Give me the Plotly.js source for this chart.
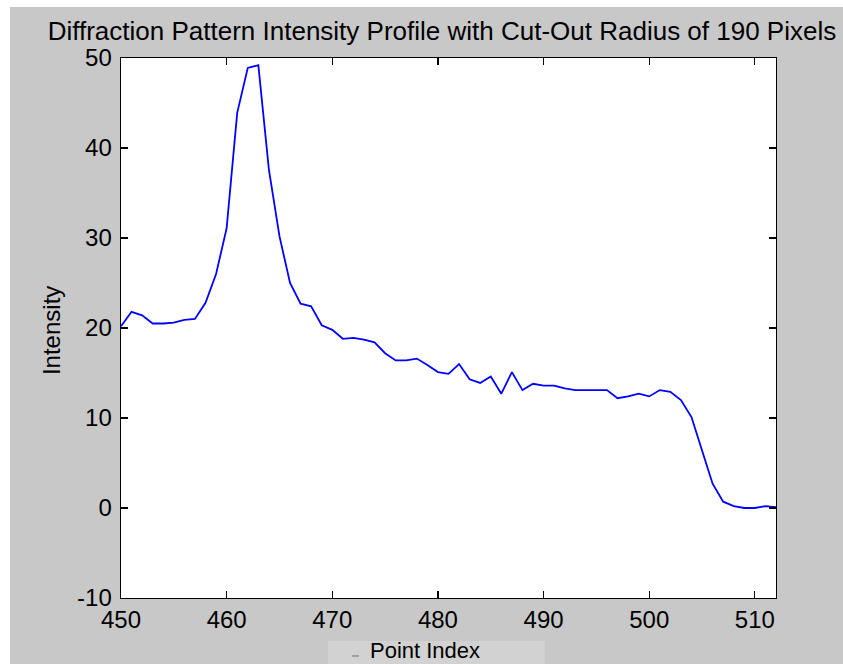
<!DOCTYPE html>
<html>
<head>
<meta charset="utf-8">
<script src="https://cdn.plot.ly/plotly-3.0.1.min.js"></script>
<style>
  html, body { margin: 0; padding: 0; background: #ffffff; width: 843px; height: 664px; overflow: hidden; }
  #chart { position: absolute; left: 10px; top: 7px; width: 833px; height: 657px; }
</style>
</head>
<body>
<div id="chart"></div>
<script>
// Point indices 450..512
const pointIndex = [450,451,452,453,454,455,456,457,458,459,460,461,462,463,464,465,466,467,468,469,470,
  471,472,473,474,475,476,477,478,479,480,481,482,483,484,485,486,487,488,489,490,
  491,492,493,494,495,496,497,498,499,500,501,502,503,504,505,506,507,508,509,510,511,512];
const intensity = [20.2,21.8,21.4,20.5,20.5,20.6,20.9,21.0,22.8,26.0,31.1,43.9,48.9,49.2,37.6,30.2,25.0,22.7,22.4,20.3,19.8,
  18.8,18.9,18.7,18.4,17.2,16.4,16.4,16.6,15.9,15.1,14.9,16.0,14.3,13.9,14.6,12.7,15.1,13.1,13.8,13.6,
  13.6,13.3,13.1,13.1,13.1,13.1,12.2,12.4,12.7,12.4,13.1,12.9,12.0,10.1,6.4,2.7,0.7,0.2,0.0,0.0,0.2,0.1];
const xTicks = [450,460,470,480,490,500,510];
const yTicks = [-10,0,10,20,30,40,50];
const titleText = "Diffraction Pattern Intensity Profile with Cut-Out Radius of 190 Pixels";
const xLabel = "Point Index";
const yLabel = "Intensity";

const FONT = "Liberation Sans, Arial, sans-serif";

const trace = {
  x: pointIndex, y: intensity, type: "scatter", mode: "lines",
  line: { color: "#0000ff", width: 1.8 }, hoverinfo: "skip"
};

const axisCommon = {
  showgrid: false, zeroline: false, showline: true, linecolor: "#000000", linewidth: 1.4,
  mirror: "ticks", ticks: "inside", ticklen: 7, tickwidth: 1.2, tickcolor: "#000000",
  tickfont: { family: FONT, size: 24, color: "#000000" }
};

const layout = {
  width: 833, height: 657,
  paper_bgcolor: "#c8c8c8", plot_bgcolor: "#ffffff",
  margin: { l: 111, r: 67, t: 51, b: 66, pad: 0 },
  showlegend: false,
  title: {
    text: titleText, font: { family: FONT, size: 26, color: "#000000" },
    xref: "paper", x: 0.49, xanchor: "center",
    yref: "container", y: 0.963, yanchor: "middle"
  },
  xaxis: Object.assign({}, axisCommon, {
    range: [450, 512], tickvals: xTicks, ticktext: xTicks.map(String)
  }),
  yaxis: Object.assign({}, axisCommon, {
    range: [-10, 50], tickvals: yTicks, ticktext: yTicks.map(String), ticklabelstandoff: 3
  }),
  shapes: [
    { type: "rect", xref: "paper", yref: "paper", x0: 0.316, x1: 0.647, y0: -0.125, y1: -0.0796,
      fillcolor: "#d2d2d2", line: { width: 0 }, layer: "below" },
    { type: "line", xref: "paper", yref: "paper", x0: 0.3527, x1: 0.3634, y0: -0.1074, y1: -0.1074,
      line: { color: "#6e6e6e", width: 1 }, layer: "below" }
  ],
  annotations: [
    { text: xLabel, xref: "paper", yref: "paper", x: 0.464, y: -0.098, xanchor: "center", yanchor: "middle",
      showarrow: false, font: { family: FONT, size: 22, color: "#000000" } },
    { text: yLabel, xref: "paper", yref: "paper", x: -0.107, y: 0.496, xanchor: "center", yanchor: "middle",
      textangle: -90, showarrow: false, font: { family: FONT, size: 24, color: "#000000" } }
  ]
};

Plotly.newPlot("chart", [trace], layout, { displayModeBar: false, staticPlot: true });
</script>
</body>
</html>
